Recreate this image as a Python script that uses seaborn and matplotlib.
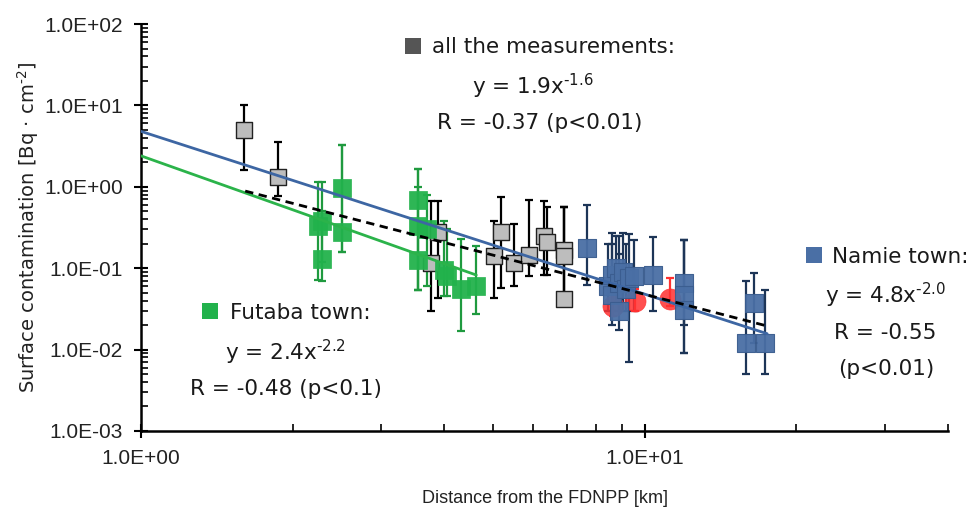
import numpy as np
import pandas as pd
import matplotlib
matplotlib.use("Agg")
import matplotlib.pyplot as plt
from matplotlib.patches import Rectangle
import seaborn as sns
from matplotlib.ticker import FuncFormatter, LogLocator, NullFormatter

# ---- measurements: distance [km], surface contamination [Bq/cm2], error-bar bounds
gray_x = [1.60, 1.87, 3.76, 3.89, 5.02, 5.19, 5.51, 5.90, 6.32, 6.40, 6.93, 6.93, 6.93]
gray_y = [4.96, 1.32, 0.115, 0.28, 0.14, 0.28, 0.115, 0.144, 0.246, 0.21, 0.166, 0.14, 0.042]
gray_lo = [1.6, 0.78, 0.030, 0.043, 0.043, 0.057, 0.060, 0.080, 0.082, 0.082, 0.035, 0.035, 0.035]
gray_hi = [10.0, 3.6, 0.66, 0.66, 0.385, 0.75, 0.35, 0.68, 0.66, 0.57, 0.57, 0.57, 0.57]

fut_x = [2.25, 2.29, 2.29, 2.51, 2.51, 3.55, 3.55, 3.55, 3.70, 4.00, 4.05, 4.32, 4.63]
fut_y = [0.33, 0.385, 0.13, 0.97, 0.28, 0.68, 0.33, 0.125, 0.30, 0.094, 0.08, 0.055, 0.06]
fut_lo = [0.071, 0.12, 0.07, 0.16, 0.16, 0.054, 0.054, 0.054, 0.06, 0.045, 0.045, 0.017, 0.027]
fut_hi = [1.15, 1.15, 0.5, 3.3, 3.3, 1.66, 1.66, 1.0, 0.8, 0.385, 0.3, 0.23, 0.185]

nam_x = [7.68, 8.45, 8.6, 8.6, 8.75, 8.9, 8.9, 9.05, 9.2, 9.3, 9.5, 10.4,
         11.95, 11.95, 11.95, 15.9, 16.5, 17.3]
nam_y = [0.175, 0.06, 0.082, 0.047, 0.1, 0.03, 0.065, 0.09, 0.055, 0.075, 0.08, 0.082,
         0.066, 0.047, 0.031, 0.012, 0.037, 0.012]
nam_lo = [0.062, 0.03, 0.03, 0.02, 0.04, 0.0175, 0.03, 0.03, 0.03, 0.007, 0.03, 0.03,
          0.02, 0.009, 0.009, 0.005, 0.012, 0.005]
nam_hi = [0.59, 0.2, 0.27, 0.2, 0.25, 0.15, 0.25, 0.27, 0.2, 0.26, 0.22, 0.245,
          0.22, 0.22, 0.22, 0.07, 0.087, 0.054]

red_x = [8.66, 9.55, 11.2]
red_y = [0.034, 0.04, 0.042]
red_lo = [0.026, 0.03, 0.034]
red_hi = [0.05, 0.055, 0.075]

# power-law fits  y = a * x^b, drawn between x0 and x1
fit_all = (1.9, -1.6, 1.61, 17.3)
fit_fut = (2.4, -2.2, 1.0, 4.63)
fit_nam = (4.8, -2.0, 1.0, 17.5)

GRAY_FACE = "#bdbdbd"
GREEN = "#22b24c"
GREEN_BAR = "#1f9a3f"
BLUE = "#4a6fa5"
BLUE_BAR = "#1d3557"
RED = "#ff3030"

W, H = 972, 514

sns.set_style("ticks")
plt.rcParams["font.family"] = ["Liberation Sans", "DejaVu Sans"]
plt.rcParams["mathtext.fontset"] = "custom"
plt.rcParams["mathtext.rm"] = "DejaVu Sans"
plt.rcParams["mathtext.it"] = "DejaVu Sans:italic"
plt.rcParams["mathtext.bf"] = "DejaVu Sans:bold"

fig = plt.figure(figsize=(W / 100, H / 100), dpi=100)
ax = fig.add_axes([141 / W, 1 - 431 / H, (948 - 141) / W, (431 - 24) / H])


def bars(xs, ys, lo, hi, color):
    ys = np.asarray(ys)
    err = [ys - np.asarray(lo), np.asarray(hi) - ys]
    ax.errorbar(xs, ys, yerr=err, fmt="none", ecolor=color, elinewidth=1.6,
                capsize=3, capthick=1.6, zorder=2)


bars(gray_x, gray_y, gray_lo, gray_hi, "black")
bars(fut_x, fut_y, fut_lo, fut_hi, GREEN_BAR)
bars(nam_x, nam_y, nam_lo, nam_hi, BLUE_BAR)
bars(red_x, red_y, red_lo, red_hi, RED)

df_gray = pd.DataFrame({"x": gray_x, "y": gray_y})
df_fut = pd.DataFrame({"x": fut_x, "y": fut_y})
df_nam = pd.DataFrame({"x": nam_x, "y": nam_y})
df_red = pd.DataFrame({"x": red_x, "y": red_y})

sns.scatterplot(data=df_gray, x="x", y="y", ax=ax, marker="s", s=140,
                color=GRAY_FACE, edgecolor="#222222", linewidth=1.0, zorder=3)
sns.scatterplot(data=df_red, x="x", y="y", ax=ax, marker="o", s=230,
                color=RED, edgecolor=RED, alpha=0.85, linewidth=0.5, zorder=3)
sns.scatterplot(data=df_fut, x="x", y="y", ax=ax, marker="s", s=150,
                color=GREEN, edgecolor=GREEN, alpha=0.95, linewidth=0.5, zorder=4)
sns.scatterplot(data=df_nam, x="x", y="y", ax=ax, marker="s", s=150,
                color=BLUE, edgecolor="#3b5d8f", alpha=0.95, linewidth=0.8, zorder=4)


def fit_frame(a, b, x0, x1):
    xs = np.geomspace(x0, x1, 60)
    return pd.DataFrame({"x": xs, "y": a * xs ** b})


sns.lineplot(data=fit_frame(*fit_nam), x="x", y="y", ax=ax, color="#3d66a3",
             linewidth=2.0, zorder=5)
sns.lineplot(data=fit_frame(*fit_fut), x="x", y="y", ax=ax, color="#2bb34a",
             linewidth=2.0, zorder=5)
sns.lineplot(data=fit_frame(*fit_all), x="x", y="y", ax=ax, color="black",
             linewidth=2.0, linestyle=(0, (3, 2)), zorder=6)

ax.set_xscale("log")
ax.set_yscale("log")
ax.set_xlim(1, 40)
ax.set_ylim(1e-3, 1e2)

sci = FuncFormatter(lambda v, _: f"{v:.1E}")
ax.xaxis.set_major_locator(LogLocator(base=10, numticks=10))
ax.yaxis.set_major_locator(LogLocator(base=10, numticks=10))
ax.xaxis.set_minor_locator(LogLocator(base=10, subs=np.arange(2, 10), numticks=20))
ax.yaxis.set_minor_locator(LogLocator(base=10, subs=np.arange(2, 10), numticks=20))
ax.xaxis.set_major_formatter(sci)
ax.yaxis.set_major_formatter(sci)
ax.xaxis.set_minor_formatter(NullFormatter())
ax.yaxis.set_minor_formatter(NullFormatter())

ax.tick_params(which="major", direction="inout", length=10, width=1.5,
               labelsize=15, color="black", labelcolor="#222222", pad=8)
ax.tick_params(which="minor", direction="in", length=5, width=1.2, color="black")
for side in ("top", "right"):
    ax.spines[side].set_visible(False)
for side in ("left", "bottom"):
    ax.spines[side].set_linewidth(1.8)
    ax.spines[side].set_color("black")

ax.set_xlabel("Distance from the FDNPP [km]", fontsize=13, color="#222222", labelpad=16)
ax.set_ylabel("Surface contamination [Bq \u00b7 cm$^{\\text{-2}}$]",
              fontsize=14, color="#222222", labelpad=2, family="DejaVu Sans")

# ---- annotation blocks (pixel positions, text baselines)
FS = 15.5


def ftext(px, py, s, ha="center"):
    fig.text(px / W, 1 - py / H, s, ha=ha, va="baseline", fontsize=FS,
             color="#1a1a1a", family="DejaVu Sans")


def header(sq_left, sq_top, color, text_left, baseline, label):
    fig.patches.append(Rectangle((sq_left / W, 1 - (sq_top + 16) / H), 16 / W, 16 / H,
                                 transform=fig.transFigure, facecolor=color,
                                 edgecolor="none", figure=fig))
    ftext(text_left, baseline, label, ha="left")


header(405, 38, "#555555", 432, 53, "all the measurements:")
ftext(533, 94, "y = 1.9x$^{\\text{-1.6}}$")
ftext(540, 129, "R = -0.37 (p<0.01)")

header(202, 303, GREEN, 230, 319, "Futaba town:")
ftext(285, 360, "y = 2.4x$^{\\text{-2.2}}$")
ftext(286, 395, "R = -0.48 (p<0.1)")

header(806, 247, BLUE, 832, 263, "Namie town:")
ftext(886, 303, "y = 4.8x$^{\\text{-2.0}}$")
ftext(885, 339, "R = -0.55")
ftext(886, 375, "(p<0.01)")

fig.savefig("out.png", dpi=100)
